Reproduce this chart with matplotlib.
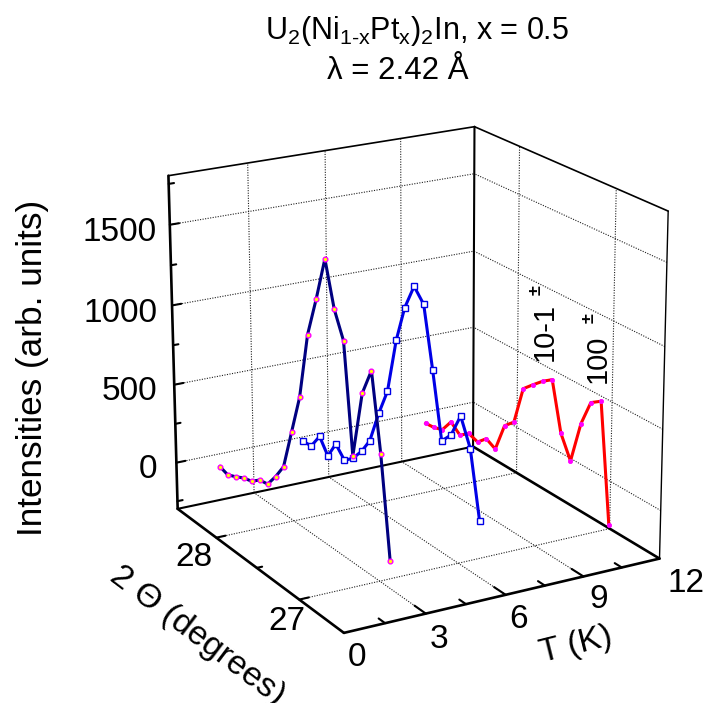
import numpy as np
import matplotlib
matplotlib.use('Agg')
import matplotlib.pyplot as plt

plt.rcParams['font.family'] = ['Liberation Sans', 'DejaVu Sans']
plt.rcParams['mathtext.fontset'] = 'custom'
plt.rcParams['mathtext.rm'] = 'Liberation Sans'
plt.rcParams['mathtext.it'] = 'Liberation Sans'
plt.rcParams['mathtext.default'] = 'regular'

W, H = 704, 703

T_LIM = (0, 12)
TT_LIM = (26.5, 28.5)
Z_LIM = (-300, 1800)

# scans: 2 theta (deg) and intensity at fixed temperature
T1 = 2
TT1 = [28.607, 28.508, 28.404, 28.301, 28.200, 28.099, 27.999, 27.899, 27.799, 27.696, 27.594,
       27.491, 27.385, 27.282, 27.183, 27.083, 26.991, 26.882, 26.780, 26.685, 26.590]
I1 = [-132, -150, -126, -97, -82, -38, -28, 55, 154, 406, 655,
      1068, 1316, 1581, 1314, 1159, 504, 914, 1080, 623, 22]

T2 = 6
TT2 = [28.817, 28.716, 28.609, 28.508, 28.408, 28.303, 28.202, 28.096, 27.997, 27.889, 27.787,
       27.685, 27.588, 27.483, 27.378, 27.280, 27.182, 27.081, 26.979, 26.876, 26.775]
I2 = [-173, -169, -68, -163, -49, -120, -71, 11, 114, 327, 500,
      851, 1082, 1244, 1166, 795, 394, 466, 616, 453, 46]

T3 = 10
TT3 = [28.499, 28.405, 28.303, 28.202, 28.098, 28.000, 27.898, 27.801, 27.701, 27.601, 27.500,
       27.404, 27.302, 27.202, 27.102, 27.006, 26.904, 26.805, 26.710, 26.609, 26.511]
I3 = [-76, -71, -52, 34, -19, 28, 6, 61, 29, 213, 271,
      514, 572, 626, 669, 369, 232, 496, 657, 699, -24]

T_TICKS = [0, 3, 6, 9, 12]
TT_TICKS = [27, 28]
Z_TICKS = [0, 500, 1000, 1500]

# perspective of the box, fitted to where its corners and ticks sit in the picture
# T, 2theta, I, pixel x, pixel y
anchors = [(0, 26.5, -300, 345, 633), (0, 28.5, -300, 176, 509), (12, 26.5, -300, 659, 559),
           (12, 28.5, -300, 473, 447), (0, 28.5, 1800, 167, 177), (12, 28.5, 1800, 475, 127),
           (12, 26.5, 1800, 668, 210), (3, 26.5, -300, 425.7, 614), (6, 26.5, -300, 505, 595),
           (9, 26.5, -300, 582.7, 576), (0, 27, -300, 298, 600), (0, 28, -300, 217, 538),
           (0, 28.5, 0, 175, 461), (0, 28.5, 500, 173.5, 384), (0, 28.5, 1000, 172, 305),
           (0, 28.5, 1500, 168.5, 225)]


def fit_view():
    rows = []
    for t, th, z, px, py in anchors:
        u = (t - T_LIM[0]) / (T_LIM[1] - T_LIM[0])
        v = (th - TT_LIM[0]) / (TT_LIM[1] - TT_LIM[0])
        w = (z - Z_LIM[0]) / (Z_LIM[1] - Z_LIM[0])
        py = H - py
        rows.append([u, v, w, 1, 0, 0, 0, 0, -px * u, -px * v, -px * w, -px])
        rows.append([0, 0, 0, 0, u, v, w, 1, -py * u, -py * v, -py * w, -py])
    p = np.linalg.svd(np.array(rows))[2][-1].reshape(3, 4)
    p = p / p[2, 3]
    # data limits to unit cube
    n = np.array([[1 / (T_LIM[1] - T_LIM[0]), 0, 0, -T_LIM[0] / (T_LIM[1] - T_LIM[0])],
                  [0, 1 / (TT_LIM[1] - TT_LIM[0]), 0, -TT_LIM[0] / (TT_LIM[1] - TT_LIM[0])],
                  [0, 0, 1 / (Z_LIM[1] - Z_LIM[0]), -Z_LIM[0] / (Z_LIM[1] - Z_LIM[0])],
                  [0, 0, 0, 1]])
    m = np.vstack([p[0], p[1], [0.3, 0.5, 0.2, 0.1], p[2]])
    return m @ n


fig = plt.figure(figsize=(W / 100, H / 100), dpi=100)
ax = fig.add_axes([0, 0, 1, 1], projection='3d', computed_zorder=False)
ax.set_proj_type('ortho')  # stops mplot3d clipping to its own unit view, the matrix below has the perspective
view = fit_view()
ax.get_proj = lambda: view
ax.set_axis_off()


def seg(t, th, z, **kw):
    ax.plot(t, th, z, solid_capstyle='round', **kw)


# grid
grid = dict(color='#202020', lw=0.8, ls=(0, (1, 1.3)), zorder=1)
for t in T_TICKS[1:-1]:
    ax.plot([t, t], TT_LIM, [Z_LIM[0]] * 2, **grid)
    ax.plot([t, t], [TT_LIM[1]] * 2, Z_LIM, **grid)
for th in TT_TICKS:
    ax.plot(T_LIM, [th, th], [Z_LIM[0]] * 2, **grid)
    ax.plot([T_LIM[1]] * 2, [th, th], Z_LIM, **grid)
for z in Z_TICKS:
    ax.plot(T_LIM, [TT_LIM[1]] * 2, [z, z], **grid)
    ax.plot([T_LIM[1]] * 2, TT_LIM, [z, z], **grid)

# box
edge = dict(color='black', zorder=2)
seg(T_LIM, [TT_LIM[0]] * 2, [Z_LIM[0]] * 2, lw=1.9, **edge)
seg([T_LIM[0]] * 2, TT_LIM, [Z_LIM[0]] * 2, lw=1.9, **edge)
seg(T_LIM, [TT_LIM[1]] * 2, [Z_LIM[0]] * 2, lw=1.5, **edge)
seg([T_LIM[1]] * 2, TT_LIM, [Z_LIM[0]] * 2, lw=1.9, **edge)
seg([T_LIM[0]] * 2, [TT_LIM[1]] * 2, Z_LIM, lw=1.9, **edge)
seg([T_LIM[1]] * 2, [TT_LIM[1]] * 2, Z_LIM, lw=1.5, **edge)
seg([T_LIM[1]] * 2, [TT_LIM[0]] * 2, Z_LIM, lw=1.0, **edge)
seg(T_LIM, [TT_LIM[1]] * 2, [Z_LIM[1]] * 2, lw=1.2, **edge)
seg([T_LIM[1]] * 2, TT_LIM, [Z_LIM[1]] * 2, lw=1.2, **edge)

# ticks, inward along the walls and the floor
for t in np.arange(0, 12.1, 1.5):
    ln = 0.12 if t % 3 == 0 else 0.07
    if 0 < t < 12:
        seg([t, t], [26.5, 26.5 + ln], [Z_LIM[0]] * 2, lw=1.5, **edge)
for th in np.arange(26.5, 28.6, 0.5):
    ln = 0.35 if th % 1 == 0 else 0.2
    if 26.5 < th < 28.5:
        seg([0, ln], [th, th], [Z_LIM[0]] * 2, lw=1.5, **edge)
for z in np.arange(-250, 1800, 250):
    ln = 0.35 if z % 500 == 0 else 0.2
    seg([0, ln], [TT_LIM[1]] * 2, [z, z], lw=1.5, **edge)

# scans
ax.plot([T1] * len(TT1), TT1, I1, color='#000080', lw=2.2, marker='o', ms=3.4, mfc='yellow',
        mec='#ff00ff', mew=1.0, zorder=5)
ax.plot([T2] * len(TT2), TT2, I2, color='#0000e6', lw=2.2, marker='s', ms=3.8, mfc='white',
        mec='#0000e6', mew=1.0, zorder=4)
ax.plot([T3] * len(TT3), TT3, I3, color='#ff0000', lw=2.2, marker='o', ms=3.0, mfc='#ff00ff',
        mec='#ff00ff', mew=0.6, zorder=3)
ax.viewLim.intervalx = (-0.5, W - 0.5)
ax.viewLim.intervaly = (0, H)


def label(px, py, s, size=24, rot=0, **kw):
    fig.text(px / W, 1 - py / H, s, fontsize=size, rotation=rot, rotation_mode='anchor',
             ha='center', va='center', **kw)


label(417, 31, r'U$_2$(Ni$_{1\text{-}x}$Pt$_x$)$_2$In, x = 0.5', size=22)
label(398, 71, 'λ = 2.42 Å', size=22.5)
label(33, 368, 'Intensities (arb. units)', size=25.3, rot=90)
label(197, 636, '2 Θ (degrees)', size=24.5, rot=-37)
label(576, 645, 'T (K)', size=24, rot=14)

for z, py in zip(Z_TICKS, [470, 392, 314, 232]):
    fig.text(157 / W, 1 - py / H, str(z), fontsize=24, ha='right', va='center')
for th, px, py in zip(TT_TICKS, [287, 194], [622, 558]):
    label(px, py, str(th))
for t, px, py in zip(T_TICKS, [357, 439, 519, 599, 686], [658, 639, 620, 599, 583]):
    label(px, py, str(t))

label(545, 332, '10-1', size=21, rot=90)
label(598, 359, '100', size=21, rot=90)
label(536, 290, '±', size=13, rot=90, fontweight='bold')
label(589, 318, '±', size=13, rot=90, fontweight='bold')

fig.savefig('out.png', dpi=100)
